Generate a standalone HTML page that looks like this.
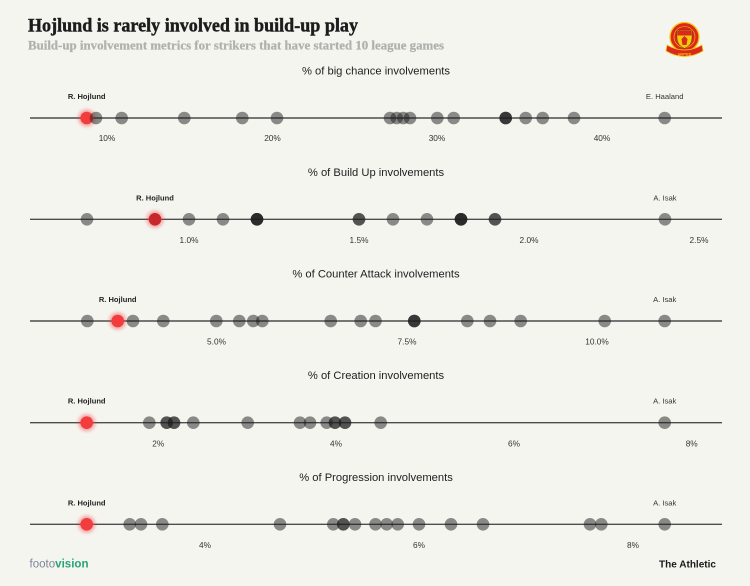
<!DOCTYPE html>
<html><head><meta charset="utf-8"><style>
html,body{margin:0;padding:0;background:#f5f5f0;}
svg{display:block;}
</style></head><body>
<svg width="750" height="586" viewBox="0 0 750 586" xmlns="http://www.w3.org/2000/svg">
<defs>
<filter id="glow" x="-100%" y="-100%" width="300%" height="300%"><feGaussianBlur stdDeviation="1.8"/></filter>
</defs>
<rect width="750" height="586" fill="#f5f5f0"/>

<!-- Title -->
<text x="28" y="31.5" font-family="Liberation Serif, serif" font-weight="bold" font-size="19" fill="#1c1c1c" stroke="#1c1c1c" stroke-width="0.45" textLength="330" lengthAdjust="spacingAndGlyphs">Hojlund is rarely involved in build-up play</text>
<text x="28" y="49.5" font-family="Liberation Serif, serif" font-weight="bold" font-size="12.5" fill="#b0b0ad" stroke="#b0b0ad" stroke-width="0.25" textLength="416" lengthAdjust="spacingAndGlyphs">Build-up involvement metrics for strikers that have started 10 league games</text>

<!-- Logo -->
<g>
  <circle cx="684.5" cy="37" r="14.5" fill="#da291c" stroke="#f6c90e" stroke-width="1.3"/>
  <circle cx="684.5" cy="37" r="10.5" fill="none" stroke="#f6c90e" stroke-width="0.6"/>
  <path d="M677 30 h15 v8 q0 7 -7.5 10.5 q-7.5 -3.5 -7.5 -10.5 z" fill="#f6c90e" stroke="#3a2a00" stroke-width="0.4"/>
  <rect x="677.5" y="30.5" width="14" height="5" fill="#da291c"/>
  <path d="M681.5 39 l3 -3 l3 3 l-1 6 h-4 z" fill="#da291c"/>
  <path d="M667 45 Q684.5 55 702 45 L703 51 Q684.5 62 666 51 Z" fill="#da291c" stroke="#f6c90e" stroke-width="0.8"/>
  <text x="684.5" y="55.5" text-anchor="middle" font-family="Liberation Sans, sans-serif" font-weight="bold" font-size="3.6" fill="#f6c90e">UNITED</text>
</g>

<g font-family="Liberation Sans, sans-serif">
<!-- Section titles -->
<text x="376" y="74.5" text-anchor="middle" font-size="11.2" fill="#1e1e1e">% of big chance involvements</text>
<text x="376" y="176" text-anchor="middle" font-size="11.2" fill="#1e1e1e">% of Build Up involvements</text>
<text x="376" y="277.6" text-anchor="middle" font-size="11.2" fill="#1e1e1e">% of Counter Attack involvements</text>
<text x="376" y="379.2" text-anchor="middle" font-size="11.2" fill="#1e1e1e">% of Creation involvements</text>
<text x="376" y="480.8" text-anchor="middle" font-size="11.2" fill="#1e1e1e">% of Progression involvements</text>

<!-- Axis lines -->
<g stroke="#4d4d4d" stroke-width="1.4">
<line x1="30" y1="118" x2="722" y2="118"/>
<line x1="30" y1="219.3" x2="722" y2="219.3"/>
<line x1="30" y1="321" x2="722" y2="321"/>
<line x1="30" y1="422.7" x2="722" y2="422.7"/>
<line x1="30" y1="524.3" x2="722" y2="524.3"/>
</g>

<!-- Player labels -->
<g font-size="7.6" text-anchor="middle" fill="#222">
<text x="86.7" y="99" font-weight="bold" textLength="37.7" lengthAdjust="spacingAndGlyphs">R. Hojlund</text>
<text x="664.7" y="99" fill="#333">E. Haaland</text>
<text x="155" y="200.3" font-weight="bold" textLength="37.7" lengthAdjust="spacingAndGlyphs">R. Hojlund</text>
<text x="665" y="200.3" fill="#333">A. Isak</text>
<text x="117.7" y="302" font-weight="bold" textLength="37.7" lengthAdjust="spacingAndGlyphs">R. Hojlund</text>
<text x="664.7" y="302" fill="#333">A. Isak</text>
<text x="86.7" y="403.7" font-weight="bold" textLength="37.7" lengthAdjust="spacingAndGlyphs">R. Hojlund</text>
<text x="664.7" y="403.7" fill="#333">A. Isak</text>
<text x="86.7" y="505.3" font-weight="bold" textLength="37.7" lengthAdjust="spacingAndGlyphs">R. Hojlund</text>
<text x="664.7" y="505.3" fill="#333">A. Isak</text>
</g>

<!-- Tick labels -->
<g font-size="8.3" text-anchor="middle" fill="#333">
<text x="107" y="141">10%</text>
<text x="272.5" y="141">20%</text>
<text x="437" y="141">30%</text>
<text x="602" y="141">40%</text>

<text x="189" y="242.8">1.0%</text>
<text x="359" y="242.8">1.5%</text>
<text x="529" y="242.8">2.0%</text>
<text x="699" y="242.8">2.5%</text>

<text x="216.5" y="344.6">5.0%</text>
<text x="407" y="344.6">7.5%</text>
<text x="597" y="344.6">10.0%</text>

<text x="158.3" y="446.3">2%</text>
<text x="336" y="446.3">4%</text>
<text x="514" y="446.3">6%</text>
<text x="691.7" y="446.3">8%</text>

<text x="205" y="548">4%</text>
<text x="419" y="548">6%</text>
<text x="633" y="548">8%</text>
</g>
</g>

<!-- Red (Hojlund) dots -->
<g>
<circle cx="86.7" cy="118" r="8.5" fill="#f04040" opacity="0.45" filter="url(#glow)"/>
<circle cx="86.7" cy="118" r="6.3" fill="#f23c3e"/>
<circle cx="155" cy="219.3" r="8.5" fill="#f04040" opacity="0.45" filter="url(#glow)"/>
<circle cx="155" cy="219.3" r="6.3" fill="#c8282c"/>
<circle cx="117.7" cy="321" r="8.5" fill="#f04040" opacity="0.45" filter="url(#glow)"/>
<circle cx="117.7" cy="321" r="6.3" fill="#f23c3e"/>
<circle cx="86.7" cy="422.7" r="8.5" fill="#f04040" opacity="0.45" filter="url(#glow)"/>
<circle cx="86.7" cy="422.7" r="6.3" fill="#f23c3e"/>
<circle cx="86.7" cy="524.3" r="8.5" fill="#f04040" opacity="0.45" filter="url(#glow)"/>
<circle cx="86.7" cy="524.3" r="6.3" fill="#f23c3e"/>
</g>

<!-- Gray dots -->
<g fill="rgba(30,30,30,0.5)">
<!-- Row 1 -->
<circle cx="96" cy="118" r="6.3"/>
<circle cx="121.7" cy="118" r="6.3"/>
<circle cx="184.3" cy="118" r="6.3"/>
<circle cx="242.3" cy="118" r="6.3"/>
<circle cx="277" cy="118" r="6.3"/>
<circle cx="390" cy="118" r="6.3"/>
<circle cx="396.7" cy="118" r="6.3"/>
<circle cx="403.3" cy="118" r="6.3"/>
<circle cx="410" cy="118" r="6.3"/>
<circle cx="437.3" cy="118" r="6.3"/>
<circle cx="453.7" cy="118" r="6.3"/>
<circle cx="505.7" cy="118" r="6.3"/>
<circle cx="505.7" cy="118" r="6.3"/>
<circle cx="505.7" cy="118" r="6.3"/>
<circle cx="525.7" cy="118" r="6.3"/>
<circle cx="542.7" cy="118" r="6.3"/>
<circle cx="574" cy="118" r="6.3"/>
<circle cx="664.7" cy="118" r="6.3"/>

<!-- Row 2 -->
<circle cx="87" cy="219.3" r="6.3"/>
<circle cx="189" cy="219.3" r="6.3"/>
<circle cx="223" cy="219.3" r="6.3"/>
<circle cx="257" cy="219.3" r="6.3"/>
<circle cx="257" cy="219.3" r="6.3"/>
<circle cx="257" cy="219.3" r="6.3"/>
<circle cx="257" cy="219.3" r="6.3"/>
<circle cx="359" cy="219.3" r="6.3"/>
<circle cx="359" cy="219.3" r="6.3"/>
<circle cx="393" cy="219.3" r="6.3"/>
<circle cx="427" cy="219.3" r="6.3"/>
<circle cx="461" cy="219.3" r="6.3"/>
<circle cx="461" cy="219.3" r="6.3"/>
<circle cx="461" cy="219.3" r="6.3"/>
<circle cx="461" cy="219.3" r="6.3"/>
<circle cx="495" cy="219.3" r="6.3"/>
<circle cx="495" cy="219.3" r="6.3"/>
<circle cx="665" cy="219.3" r="6.3"/>

<!-- Row 3 -->
<circle cx="87.3" cy="321" r="6.3"/>
<circle cx="133" cy="321" r="6.3"/>
<circle cx="163.3" cy="321" r="6.3"/>
<circle cx="216.3" cy="321" r="6.3"/>
<circle cx="239.3" cy="321" r="6.3"/>
<circle cx="253.3" cy="321" r="6.3"/>
<circle cx="262.3" cy="321" r="6.3"/>
<circle cx="330.7" cy="321" r="6.3"/>
<circle cx="360.7" cy="321" r="6.3"/>
<circle cx="375.5" cy="321" r="6.3"/>
<circle cx="414.3" cy="321" r="6.3"/>
<circle cx="414.3" cy="321" r="6.3"/>
<circle cx="414.3" cy="321" r="6.3"/>
<circle cx="467.3" cy="321" r="6.3"/>
<circle cx="490" cy="321" r="6.3"/>
<circle cx="520.7" cy="321" r="6.3"/>
<circle cx="604.7" cy="321" r="6.3"/>
<circle cx="664.7" cy="321" r="6.3"/>

<!-- Row 4 -->
<circle cx="149.3" cy="422.7" r="6.3"/>
<circle cx="166.7" cy="422.7" r="6.3"/>
<circle cx="166.7" cy="422.7" r="6.3"/>
<circle cx="174" cy="422.7" r="6.3"/>
<circle cx="174" cy="422.7" r="6.3"/>
<circle cx="193.3" cy="422.7" r="6.3"/>
<circle cx="247.7" cy="422.7" r="6.3"/>
<circle cx="300" cy="422.7" r="6.3"/>
<circle cx="310" cy="422.7" r="6.3"/>
<circle cx="326.7" cy="422.7" r="6.3"/>
<circle cx="335" cy="422.7" r="6.3"/>
<circle cx="335" cy="422.7" r="6.3"/>
<circle cx="345" cy="422.7" r="6.3"/>
<circle cx="345" cy="422.7" r="6.3"/>
<circle cx="380.7" cy="422.7" r="6.3"/>
<circle cx="664.7" cy="422.7" r="6.3"/>

<!-- Row 5 -->
<circle cx="129.7" cy="524.3" r="6.3"/>
<circle cx="141" cy="524.3" r="6.3"/>
<circle cx="162.3" cy="524.3" r="6.3"/>
<circle cx="280" cy="524.3" r="6.3"/>
<circle cx="333.3" cy="524.3" r="6.3"/>
<circle cx="343.3" cy="524.3" r="6.3"/>
<circle cx="343.3" cy="524.3" r="6.3"/>
<circle cx="355" cy="524.3" r="6.3"/>
<circle cx="375.5" cy="524.3" r="6.3"/>
<circle cx="386.7" cy="524.3" r="6.3"/>
<circle cx="397.7" cy="524.3" r="6.3"/>
<circle cx="419" cy="524.3" r="6.3"/>
<circle cx="451" cy="524.3" r="6.3"/>
<circle cx="483" cy="524.3" r="6.3"/>
<circle cx="590" cy="524.3" r="6.3"/>
<circle cx="601.3" cy="524.3" r="6.3"/>
<circle cx="664.7" cy="524.3" r="6.3"/>
</g>

<!-- Footer -->
<text x="29.5" y="567.5" font-family="Liberation Sans, sans-serif" font-size="11.5" textLength="59" lengthAdjust="spacingAndGlyphs"><tspan fill="#7d8696">footo</tspan><tspan fill="#27a37a" font-weight="bold">vision</tspan></text>
<text x="659" y="567.5" font-family="Liberation Sans, sans-serif" font-weight="bold" font-size="10.5" fill="#1a1a1a" textLength="57" lengthAdjust="spacingAndGlyphs">The Athletic</text>
</svg>
</body></html>
